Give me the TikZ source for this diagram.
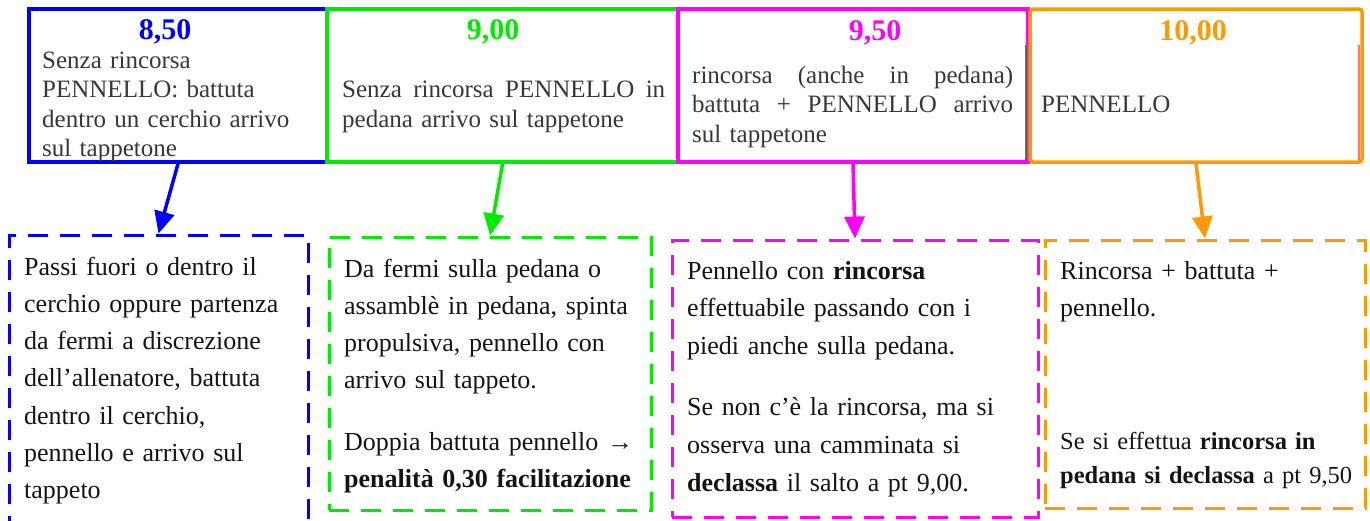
\documentclass[tikz,border=0pt]{standalone}
\usepackage{fontspec}
\setmainfont{Liberation Serif}
\usetikzlibrary{arrows.meta}
\definecolor{cblue}{RGB}{0,0,255}
\definecolor{cgreen}{RGB}{0,235,0}
\definecolor{cmag}{RGB}{255,0,255}
\definecolor{corange}{RGB}{255,153,0}
\definecolor{toptext}{RGB}{55,55,55}
\definecolor{bottext}{RGB}{20,20,20}
\begin{document}
\begin{tikzpicture}[x=1pt,y=-1pt,
  topbox/.style={draw, line width=3.5pt, rectangle, inner sep=0pt, minimum height=153pt},
  botbox/.style={draw, line width=3pt, rectangle, inner sep=0pt, dash pattern=on 20pt off 12pt},
  title/.style={anchor=base, inner sep=0pt, font=\fontsize{30}{30}\selectfont\bfseries},
  toptxt/.style={anchor=base west, inner sep=0pt, align=left, text=toptext, text width=#1,
     font=\fontsize{25}{29.5}\selectfont},
  bottxt/.style={anchor=base west, inner sep=0pt, align=left, text=bottext, text width=#1,
     font=\fontsize{26}{37.3}\selectfont},
  conn/.style={line width=3.5pt, -{Triangle[length=22pt,width=20pt]}}
]
\useasboundingbox (0,0) rectangle (1370,520);
\clip (0,0) rectangle (1370,520);

% top boxes
\node[topbox, cblue, minimum width=298pt] (t1) at (178,85.5) {};
\node[topbox, cgreen, minimum width=351pt] (t2) at (502.5,85.5) {};
\node[topbox, cmag, minimum width=350pt] (t3) at (853,85.5) {};
\draw[line width=1.5pt, gray!80!black] (1026,45) -- (1026,160);
\draw[line width=1.2pt, red!55] (1359,45) -- (1359,160);
\node[topbox, corange, minimum width=332pt, rounded corners=3pt] (t4) at (1196,85.5) {};

% titles
\node[title, cblue] (h1) at (165,39) {8,50};
\node[title, cgreen] (h2) at (493,39) {9,00};
\node[title, cmag] (h3) at (875,40) {9,50};
\node[title, corange] (h4) at (1193,40) {10,00};

% top texts
\node[toptxt=280pt] (x1) at (42,68) {Senza rincorsa\\PENNELLO: battuta\\dentro un cerchio arrivo\\sul tappetone};
\node[toptxt=326pt, font=\fontsize{25}{30.5}\selectfont] (x2) at (342,97)
  {\makebox[323pt]{Senza\hfill rincorsa\hfill PENNELLO\hfill in}\\pedana arrivo sul tappetone};
\node[toptxt=326pt] (x3) at (692,83)
  {\makebox[321pt]{rincorsa\hfill (anche\hfill in\hfill pedana)}\\\makebox[321pt]{battuta\hfill +\hfill PENNELLO\hfill arrivo}\\sul tappetone};
\node[toptxt=300pt] (x4) at (1041,112) {PENNELLO};

% bottom boxes
\node[botbox, cblue, minimum width=299pt, minimum height=305pt] (b1) at (158.5,387.5) {};
\node[botbox, cgreen, minimum width=322pt, minimum height=273pt] (b2) at (490,373.5) {};
\node[botbox, cmag, minimum width=366pt, minimum height=277pt] (b3) at (855,378.5) {};
\node[botbox, corange, minimum width=320pt, minimum height=268pt] (b4) at (1205,374) {};

% connectors
\draw[conn, cblue] (t1.south) -- (b1.north);
\draw[conn, cgreen] (t2.south) -- (b2.north);
\draw[conn, cmag] (t3.south) -- (b3.north);
\draw[conn, corange] (t4.south) -- (b4.north);

% bottom texts
\node[bottxt=280pt] (y1) at (24,275) {Passi fuori o dentro il\\cerchio oppure partenza\\da fermi a discrezione\\dell’allenatore, battuta\\dentro il cerchio,\\pennello e arrivo sul\\tappeto};
\node[bottxt=305pt] (y2) at (344,277) {Da fermi sulla pedana o\\assamblè in pedana, spinta\\propulsiva, pennello con\\arrivo sul tappeto.\\[24pt]Doppia battuta pennello →\\\textbf{penalità 0,30 facilitazione}};
\node[bottxt=345pt, font=\fontsize{26}{37.6}\selectfont] (y3) at (687,279) {Pennello con \textbf{rincorsa}\\effettuabile passando con i\\piedi anche sulla pedana.\\[24pt]Se non c’è la rincorsa, ma si\\osserva una camminata si\\\textbf{declassa} il salto a pt 9,00.};
\node[bottxt=300pt] (y4) at (1060,279) {Rincorsa + battuta +\\pennello.};
\node[bottxt=300pt, font=\fontsize{24.5}{34}\selectfont] (y5) at (1060,449) {Se si effettua \textbf{rincorsa in}\\\textbf{pedana si declassa} a pt 9,50};
\end{tikzpicture}
\end{document}
